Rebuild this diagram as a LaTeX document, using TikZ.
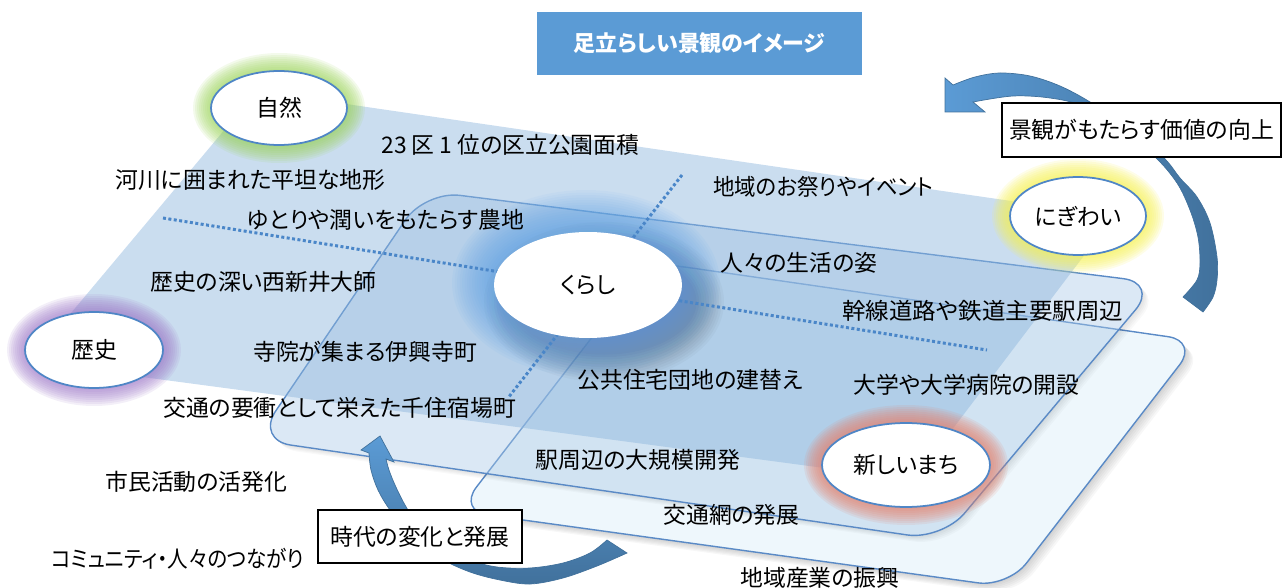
\documentclass[tikz,border=0pt]{standalone}
\usepackage{fontspec}
\setmainfont{Noto Sans CJK JP}[RawFeature={+palt}]
\usetikzlibrary{shapes.geometric}
\definecolor{Afill}{HTML}{8FB7DE}
\definecolor{Bfill}{HTML}{A9C8E6}
\definecolor{Cfill}{HTML}{EEF7FC}
\definecolor{edgec}{HTML}{5A8AC6}
\definecolor{dotc}{HTML}{4A86C8}
\definecolor{titleblue}{HTML}{5B9BD5}
\definecolor{arrowlight}{HTML}{5B9BD5}
\definecolor{arrowdark}{HTML}{41719C}
\definecolor{ovalline}{HTML}{4F86C6}
\definecolor{gGreen}{HTML}{9BD35A}
\definecolor{gYellow}{HTML}{F5F050}
\definecolor{gPurple}{HTML}{9E7AC8}
\definecolor{gRed}{HTML}{E8806A}
\definecolor{gBlue}{HTML}{5A9FE8}
\newcommand\Apath{(257,91) -- (1114,216) -- (914,480) -- (30,362) -- cycle}
\newcommand\Bpath{(425,191) -- (1158,283) -- (942,540) -- (256,440) -- cycle}
\newcommand\Cpath{(650,262) -- (1198,341) -- (1008,587) -- (458,511) -- cycle}
\newcommand\myglow[8]{\foreach \k in {1,...,#6}{\fill[#5,opacity=#8] (#1,#2) ellipse [x radius={(#3+#7*\k)*0.02cm}, y radius={(#4+#7*\k)*0.02cm}];}}
\begin{document}
\begin{tikzpicture}[x=0.02cm, y=-0.02cm,
  lbl/.style={anchor=west, inner sep=0pt, font=\fontsize{13}{15}\selectfont, text=black},
  oval/.style={ellipse, inner sep=0pt, fill=white, draw=ovalline, line width=1pt, font=\fontsize{13}{15}\selectfont},
  plainbox/.style={draw=black, line width=1.1pt, fill=white, inner sep=0pt, font=\fontsize{13}{15}\selectfont},
  dotline/.style={dotc, line width=1.7pt, dash pattern=on 1.7pt off 1.4pt},
  arrowbody/.style={draw=arrowdark, line width=0.4pt}]
\useasboundingbox (0,0) rectangle (1282,588);
% layer C (front, lightest)
\foreach \k in {1,...,6}{\fill[black, opacity=0.03, rounded corners=0.6cm, shift={(\k*1.4,\k*1.4)}] \Cpath;}
\filldraw[fill=Cfill, draw=edgec, line width=0.8pt, rounded corners=0.6cm] \Cpath;
% layer B (shadow only outside the shape)
\begin{scope}[even odd rule, rounded corners=0.7cm]
  \clip (-20,-20) -- (1300,-20) -- (1300,600) -- (-20,600) -- cycle \Bpath;
  \foreach \k in {1,...,5}{\fill[black, opacity=0.025, shift={(\k*1.3,\k*1.3)}] \Bpath;}
\end{scope}
\fill[Bfill, opacity=0.42, rounded corners=0.7cm] \Bpath;
\draw[edgec, line width=0.8pt, rounded corners=0.7cm] \Bpath;
% layer A (back shaded plane)
\fill[Afill, opacity=0.47, rounded corners=0.15cm] \Apath;
% glows
\myglow{279}{108}{68}{37}{gGreen}{9}{2}{0.12}
\myglow{1078}{216}{68}{39}{gYellow}{9}{2}{0.13}
\myglow{94}{350}{69}{38}{gPurple}{9}{2}{0.12}
\myglow{906}{465}{84}{42}{gRed}{9}{2}{0.12}
\myglow{604}{302}{90}{50}{black}{12}{2.5}{0.028}
\myglow{586}{283}{94}{53}{gBlue}{16}{2.5}{0.06}
% dotted dividing lines
\coordinate (dl1) at (163,218);
\coordinate (dl2) at (987,350);
\coordinate (dv1) at (682,175);
\coordinate (dv2) at (508,398);
\draw[dotline] (dl1) -- (dl2);
\draw[dotline] (dv1) -- (dv2);
% ellipses
\node[oval, minimum width=2.72cm, minimum height=1.48cm] (shizen) at (279,108) {自然};
\node[oval, minimum width=2.72cm, minimum height=1.56cm] (nigiwai) at (1078,216) {にぎわい};
\node[oval, minimum width=2.76cm, minimum height=1.52cm] (rekishi) at (94,350) {歴史};
\node[oval, draw=none, minimum width=3.76cm, minimum height=2.12cm] (kurashi) at (588,285) {くらし};
\node[oval, minimum width=3.36cm, minimum height=1.68cm] (machi) at (906,465) {新しいまち};
% curved arrows
\path[arrowbody, left color=arrowlight, right color=arrowdark]
  plot[smooth, tension=0.55] coordinates {(1203,312) (1213,297) (1217,280) (1217,257) (1210,223) (1197,197) (1180,178) (1163,157) (1125,126) (1090,102) (1060,86) (1030,76) (1000,73) (975,77) (953,85)}
  -- (945,78) -- (945,112) -- (985,112) -- (973,102)
  -- plot[smooth, tension=0.55] coordinates {(973,102) (1013,96) (1050,98) (1082,106) (1120,130) (1155,157) (1177,183) (1190,210) (1198,237) (1200,263) (1197,280) (1183,297)}
  -- cycle;
\path[arrowbody, top color=arrowlight, bottom color=arrowdark]
  plot[smooth, tension=0.55] coordinates {(369,453) (371,470) (378,490) (390,510) (410,535) (440,558) (470,572) (500,580) (530,584) (563,578) (597,566) (627,553)}
  -- (607,540)
  -- plot[smooth, tension=0.55] coordinates {(607,540) (590,553) (563,563) (530,568) (497,567) (470,560) (440,545) (418,525) (405,505) (395,485) (389,470) (386,459)}
  -- (394,462) -- (380,436) -- (361,450) -- cycle;
% boxes
\node[fill=titleblue, minimum width=6.5cm, minimum height=1.26cm, inner sep=0pt, text=white, font=\fontsize{12.5}{15}\bfseries] (title) at (699.5,43.5) {足立らしい景観のイメージ};
\node[plainbox, minimum width=5.58cm, minimum height=1.08cm] (value) at (1141.5,130) {景観がもたらす価値の向上};
\node[plainbox, minimum width=4.08cm, minimum height=1.06cm] (change) at (420,536.5) {時代の変化と発展};
% labels
\node[lbl] (t1) at (381,145) {23 区 1 位の区立公園面積};
\node[lbl] (t2) at (115,180) {河川に囲まれた平坦な地形};
\node[lbl] (t3) at (247,220) {ゆとりや潤いをもたらす農地};
\node[lbl] (t4) at (713,187) {\scalebox{0.94}[1]{地域のお祭りやイベント}};
\node[lbl] (t5) at (720,263) {人々の生活の姿};
\node[lbl] (t6) at (150,282) {歴史の深い西新井大師};
\node[lbl] (t7) at (842,311) {\scalebox{1.03}[1]{幹線道路や鉄道主要駅周辺}};
\node[lbl] (t8) at (253,352) {寺院が集まる伊興寺町};
\node[lbl] (t9) at (577,380) {公共住宅団地の建替え};
\node[lbl] (t10) at (853,385) {大学や大学病院の開設};
\node[lbl] (t11) at (163,408) {交通の要衝として栄えた千住宿場町};
\node[lbl] (t12) at (535,460) {駅周辺の大規模開発};
\node[lbl] (t13) at (105,482) {市民活動の活発化};
\node[lbl] (t14) at (663,515) {交通網の発展};
\node[lbl] (t15) at (51,559) {\scalebox{0.9}[1]{コミュニティ・人々のつながり}};
\node[lbl] (t16) at (740,578) {地域産業の振興};
\end{tikzpicture}
\end{document}
